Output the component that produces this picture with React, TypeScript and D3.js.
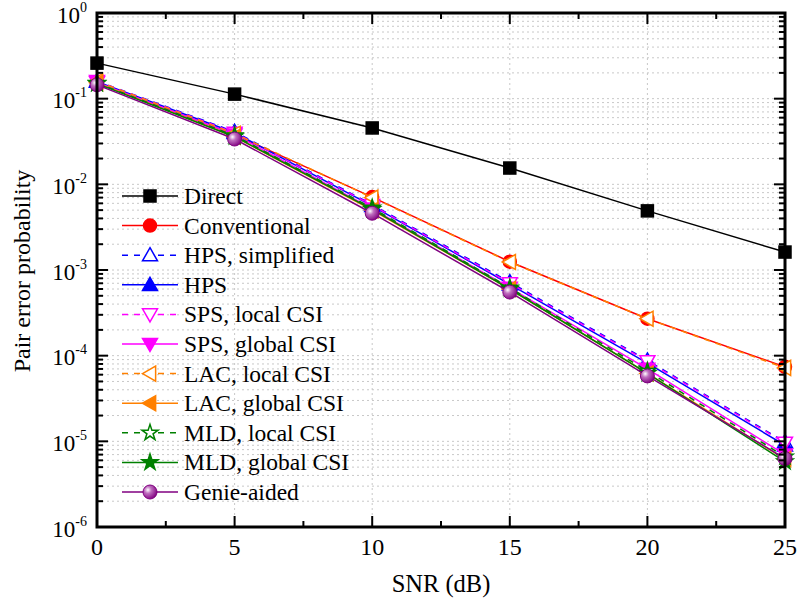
import * as d3 from "d3";

const snr = [0, 5, 10, 15, 20, 25];

const direct = [0.26, 0.113, 0.0455, 0.0155, 0.0049, 0.00162];
const conventional = [0.155, 0.038, 0.0071, 0.00125, 0.00027, 7.4e-5];
const hpsSimplified = [0.16, 0.041, 0.0058, 0.00072, 8.8e-5, 9.8e-6];
const hps = [0.158, 0.04, 0.0056, 0.00068, 8.2e-5, 9.0e-6];
const spsLocal = [0.16, 0.04, 0.0057, 0.0007, 8.6e-5, 9.6e-6];
const spsGlobal = [0.155, 0.038, 0.0052, 0.00062, 7.0e-5, 7.0e-6];
const lacLocal = [0.16, 0.039, 0.007, 0.00124, 0.00027, 7.2e-5];
const lacGlobal = [0.153, 0.036, 0.005, 0.0006, 6.2e-5, 6.2e-6];
const mldLocal = [0.152, 0.037, 0.0053, 0.00062, 6.6e-5, 6.6e-6];
const mldGlobal = [0.15, 0.036, 0.0051, 0.0006, 6.2e-5, 5.8e-6];
const genie = [0.145, 0.0338, 0.0046, 0.000553, 5.8e-5, 6.3e-6];

const xTicks = [0, 5, 10, 15, 20, 25];
const yExps = [0, -1, -2, -3, -4, -5, -6];

type Shape = "square" | "circle" | "triUp" | "triDown" | "triLeft" | "star" | "sphere";

const series: { name: string; values: number[]; color: string; dashed: boolean; shape: Shape; filled: boolean }[] = [
  { name: "Direct", values: direct, color: "#000000", dashed: false, shape: "square", filled: true },
  { name: "Conventional", values: conventional, color: "#ff0000", dashed: false, shape: "circle", filled: true },
  { name: "HPS, simplified", values: hpsSimplified, color: "#0000ff", dashed: true, shape: "triUp", filled: false },
  { name: "HPS", values: hps, color: "#0000ff", dashed: false, shape: "triUp", filled: true },
  { name: "SPS, local CSI", values: spsLocal, color: "#ff00ff", dashed: true, shape: "triDown", filled: false },
  { name: "SPS, global CSI", values: spsGlobal, color: "#ff00ff", dashed: false, shape: "triDown", filled: true },
  { name: "LAC, local CSI", values: lacLocal, color: "#ff8000", dashed: true, shape: "triLeft", filled: false },
  { name: "LAC, global CSI", values: lacGlobal, color: "#ff8000", dashed: false, shape: "triLeft", filled: true },
  { name: "MLD, local CSI", values: mldLocal, color: "#008000", dashed: true, shape: "star", filled: false },
  { name: "MLD, global CSI", values: mldGlobal, color: "#008000", dashed: false, shape: "star", filled: true },
  { name: "Genie-aided", values: genie, color: "#800080", dashed: false, shape: "sphere", filled: true },
];

const W = 799;
const H = 610;
const m = { left: 97, right: 785, top: 13, bottom: 527 };
const font = '"Liberation Serif", "DejaVu Serif", serif';

function Marker({ shape, x, y, color, filled }: { shape: Shape; x: number; y: number; color: string; filled: boolean }) {
  const fill = filled ? color : "#ffffff";
  const sw = 1.5;
  if (shape === "square") {
    return <rect x={x - 6} y={y - 6} width={12} height={12} fill={fill} stroke={color} strokeWidth={sw} />;
  }
  if (shape === "circle") {
    return <circle cx={x} cy={y} r={6.5} fill={fill} stroke={color} strokeWidth={sw} />;
  }
  if (shape === "sphere") {
    return <circle cx={x} cy={y} r={7} fill="url(#sphereGrad)" stroke={color} strokeWidth={1} />;
  }
  if (shape === "star") {
    const p = d3.symbol(d3.symbolStar, 80)() as string;
    return <path d={p} transform={`translate(${x},${y})`} fill={fill} stroke={color} strokeWidth={sw} />;
  }
  const s = 7.5;
  let pts: [number, number][];
  if (shape === "triUp") pts = [[0, -s], [s, s * 0.75], [-s, s * 0.75]];
  else if (shape === "triDown") pts = [[0, s], [s, -s * 0.75], [-s, -s * 0.75]];
  else pts = [[-s, 0], [s * 0.75, -s], [s * 0.75, s]];
  const d = "M" + pts.map((q) => `${x + q[0]},${y + q[1]}`).join("L") + "Z";
  return <path d={d} fill={fill} stroke={color} strokeWidth={sw} strokeLinejoin="miter" />;
}

export default function App() {
  const x = d3.scaleLinear().domain([0, 25]).range([m.left, m.right]);
  const y = d3.scaleLog().domain([1e-6, 1]).range([m.bottom, m.top]);

  const line = d3
    .line<number>()
    .x((_, i) => x(snr[i]))
    .y((d) => y(d));

  const minorY: number[] = [];
  for (let e = -6; e < 0; e++) {
    for (let k = 2; k <= 9; k++) minorY.push(k * Math.pow(10, e));
  }
  const minorX = [2.5, 7.5, 12.5, 17.5, 22.5];

  const legendX = 122;
  const legendY0 = 196;
  const legendDy = 29.6;

  return (
    <svg
      width={W}
      height={H}
      style={{ position: "absolute", left: 0, top: 0, background: "#fff", fontFamily: font }}
    >
      <defs>
        <radialGradient id="sphereGrad" cx="0.35" cy="0.35" r="0.7">
          <stop offset="0" stopColor="#ffffff" />
          <stop offset="0.35" stopColor="#c070c0" />
          <stop offset="1" stopColor="#800080" />
        </radialGradient>
        <clipPath id="plotClip">
          <rect x={m.left - 10} y={m.top - 10} width={m.right - m.left + 20} height={m.bottom - m.top + 20} />
        </clipPath>
      </defs>

      {/* grid */}
      <g stroke="#c8c8c8" strokeWidth={1} strokeDasharray="2,3">
        {[...minorY, 1e-5, 1e-4, 1e-3, 1e-2, 1e-1].map((v, i) => (
          <line key={"gy" + i} x1={m.left} x2={m.right} y1={y(v)} y2={y(v)} />
        ))}
        {[5, 10, 15, 20].map((v) => (
          <line key={"gx" + v} x1={x(v)} x2={x(v)} y1={m.top} y2={m.bottom} />
        ))}
      </g>

      {/* series */}
      <g clipPath="url(#plotClip)">
        {series.map((s) => (
          <g key={s.name}>
            <path
              d={line(s.values) as string}
              fill="none"
              stroke={s.color}
              strokeWidth={1.5}
              strokeDasharray={s.dashed ? "6,6" : undefined}
            />
            {s.values.map((v, i) => (
              <Marker key={i} shape={s.shape} x={x(snr[i])} y={y(v)} color={s.color} filled={s.filled} />
            ))}
          </g>
        ))}
      </g>

      {/* ticks */}
      <g stroke="#000" strokeWidth={2}>
        {yExps.map((e) => (
          <g key={"my" + e}>
            <line x1={m.left} x2={m.left + 11} y1={y(Math.pow(10, e))} y2={y(Math.pow(10, e))} />
            <line x1={m.right} x2={m.right - 11} y1={y(Math.pow(10, e))} y2={y(Math.pow(10, e))} />
          </g>
        ))}
        {minorY.map((v, i) => (
          <g key={"ny" + i}>
            <line x1={m.left} x2={m.left + 6} y1={y(v)} y2={y(v)} />
            <line x1={m.right} x2={m.right - 6} y1={y(v)} y2={y(v)} />
          </g>
        ))}
        {xTicks.map((v) => (
          <g key={"mx" + v}>
            <line x1={x(v)} x2={x(v)} y1={m.bottom} y2={m.bottom - 11} />
            <line x1={x(v)} x2={x(v)} y1={m.top} y2={m.top + 11} />
          </g>
        ))}
        {minorX.map((v) => (
          <g key={"nx" + v}>
            <line x1={x(v)} x2={x(v)} y1={m.bottom} y2={m.bottom - 6} />
            <line x1={x(v)} x2={x(v)} y1={m.top} y2={m.top + 6} />
          </g>
        ))}
      </g>

      {/* frame */}
      <rect
        x={m.left}
        y={m.top}
        width={m.right - m.left}
        height={m.bottom - m.top}
        fill="none"
        stroke="#000"
        strokeWidth={3}
      />

      {/* tick labels */}
      <g fill="#000">
        {xTicks.map((v) => (
          <text key={"tx" + v} x={x(v)} y={555} textAnchor="middle" fontSize={24}>
            {v}
          </text>
        ))}
        {yExps.map((e) => (
          <text key={"ty" + e} x={87} y={y(Math.pow(10, e)) + 9.5} textAnchor="end" fontSize={23}>
            <tspan>10</tspan>
            <tspan fontSize={14} dy={-11}>
              {e}
            </tspan>
          </text>
        ))}
      </g>

      {/* axis titles */}
      <text x={(m.left + m.right) / 2} y={592} textAnchor="middle" fontSize={24.5}>
        SNR (dB)
      </text>
      <text
        transform={`translate(30,${(m.top + m.bottom) / 2 + 1}) rotate(-90)`}
        textAnchor="middle"
        fontSize={24}
      >
        Pair error probability
      </text>

      {/* legend */}
      <g>
        {series.map((s, i) => {
          const ly = legendY0 + i * legendDy;
          return (
            <g key={"lg" + s.name}>
              <line
                x1={legendX}
                x2={legendX + 56}
                y1={ly}
                y2={ly}
                stroke={s.color}
                strokeWidth={1.5}
                strokeDasharray={s.dashed ? "6,6" : undefined}
              />
              <Marker shape={s.shape} x={legendX + 28} y={ly} color={s.color} filled={s.filled} />
              <text x={legendX + 62} y={ly + 8} fontSize={23.5} fill="#000">
                {s.name}
              </text>
            </g>
          );
        })}
      </g>
    </svg>
  );
}
